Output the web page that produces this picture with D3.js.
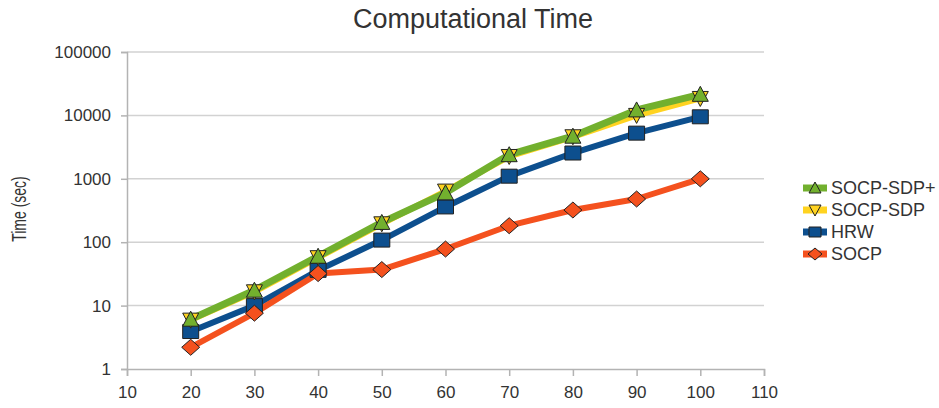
<!DOCTYPE html>
<html>
<head>
<meta charset="utf-8">
<script src="https://cdn.jsdelivr.net/npm/d3@7"></script>
<style>
  html, body { margin: 0; padding: 0; background: #fff; }
  svg { display: block; font-family: "Liberation Sans", Arial, sans-serif; }
</style>
</head>
<body>
<svg id="chart" width="939" height="408"></svg>
<script>
// Problem sizes (x axis)
const sizes = [20, 30, 40, 50, 60, 70, 80, 90, 100];

// Computation time in seconds for each method
const socpSdpPlus = [6.1, 17.5, 60, 205, 600, 2400, 4700, 12200, 21500];
const socpSdp     = [5.9, 16.5, 57, 195, 640, 2250, 4600, 10000, 18500];
const hrw         = [3.9, 10, 36, 108, 360, 1100, 2550, 5250, 9500];
const socp        = [2.2, 7.6, 32, 37, 78, 182, 322, 480, 1000];

// Axis ticks
const xTicks = [10, 20, 30, 40, 50, 60, 70, 80, 90, 100, 110];
const yTicks = [1, 10, 100, 1000, 10000, 100000];

const seriesNames = ["SOCP-SDP+", "SOCP-SDP", "HRW", "SOCP"];

const series = [
  { name: "HRW", values: hrw, color: "#0d4f8e", width: 6, symbol: "square" },
  { name: "SOCP", values: socp, color: "#f4511e", width: 6, symbol: "diamond" },
  { name: "SOCP-SDP", values: socpSdp, color: "#ffd320", width: 6, symbol: "down" },
  { name: "SOCP-SDP+", values: socpSdpPlus, color: "#72b02e", width: 7, symbol: "up" }
];

const svg = d3.select("#chart");

const x = d3.scaleLinear().domain([10, 110]).range([127, 764]);
const y = d3.scaleLog().domain([1, 100000]).range([369, 52]);

// Horizontal gridlines
svg.append("g")
  .selectAll("line")
  .data(yTicks.slice(1))
  .join("line")
  .attr("x1", x(10)).attr("x2", x(110))
  .attr("y1", d => y(d)).attr("y2", d => y(d))
  .attr("stroke", "#d2d2d2").attr("stroke-width", 1.5);

// Y axis
const yAxis = svg.append("g")
  .attr("transform", `translate(${x(10)},0)`)
  .call(d3.axisLeft(y).tickValues(yTicks).tickFormat(d3.format("d")).tickSize(6).tickPadding(10));
yAxis.select(".domain").attr("stroke", "#b3b3b3").attr("stroke-width", 1.5);
yAxis.selectAll(".tick line").attr("stroke", "#b3b3b3").attr("stroke-width", 1.5);
yAxis.selectAll(".tick text").attr("fill", "#333").style("font-size", "17px")
  .style("font-family", "Liberation Sans, Arial, sans-serif");

// X axis
const xAxis = svg.append("g")
  .attr("transform", `translate(0,${y(1)})`)
  .call(d3.axisBottom(x).tickValues(xTicks).tickFormat(d3.format("d")).tickSize(7).tickPadding(10));
xAxis.select(".domain").attr("stroke", "#b3b3b3").attr("stroke-width", 1.5);
xAxis.selectAll(".tick line").attr("stroke", "#b3b3b3").attr("stroke-width", 1.5);
xAxis.selectAll(".tick text").attr("fill", "#333").style("font-size", "17px")
  .style("font-family", "Liberation Sans, Arial, sans-serif");

// Series lines
const line = d3.line().x((d, i) => x(sizes[i])).y(d => y(d));
svg.append("g")
  .selectAll("path")
  .data(series)
  .join("path")
  .attr("d", s => line(s.values))
  .attr("fill", "none")
  .attr("stroke", s => s.color)
  .attr("stroke-width", s => s.width)
  .attr("stroke-linejoin", "round");

// Marker shapes
function markerPath(sym, r) {
  if (sym === "square") return `M${-r - 1},${-r}H${r + 1}V${r}H${-r - 1}Z`;
  if (sym === "diamond") return `M0,${-r - 1}L${r + 2},0L0,${r + 1}L${-r - 2},0Z`;
  if (sym === "up") return `M0,${-r - 1}L${r + 1},${r}L${-r - 1},${r}Z`;
  return `M${-r - 1},${-r}L${r + 1},${-r}L0,${r + 1}Z`;
}

series.forEach(s => {
  svg.append("g")
    .selectAll("path")
    .data(s.values)
    .join("path")
    .attr("transform", (d, i) => `translate(${x(sizes[i])},${y(d)})`)
    .attr("d", markerPath(s.symbol, 7))
    .attr("fill", s.color)
    .attr("stroke", "#222")
    .attr("stroke-width", 1);
});

// Title
svg.append("text")
  .attr("x", 473).attr("y", 28)
  .attr("text-anchor", "middle")
  .attr("fill", "#333")
  .style("font-size", "27px")
  .text("Computational Time");

// Y axis title
svg.append("text")
  .attr("transform", "translate(26,209) scale(1.5,1) rotate(-90)")
  .attr("text-anchor", "middle")
  .attr("fill", "#333")
  .style("font-size", "14px")
  .text("Time (sec)");

// Legend
const legendOrder = seriesNames.map(n => series.find(s => s.name === n));
const lg = svg.append("g")
  .selectAll("g")
  .data(legendOrder)
  .join("g")
  .attr("transform", (d, i) => `translate(0,${188 + i * 22})`);
lg.append("line")
  .attr("x1", 803).attr("x2", 827)
  .attr("stroke", d => d.color).attr("stroke-width", 7);
lg.append("path")
  .attr("transform", "translate(815,0)")
  .attr("d", d => markerPath(d.symbol, 5))
  .attr("fill", d => d.color)
  .attr("stroke", "#222").attr("stroke-width", 1);
lg.append("text")
  .attr("x", 831).attr("y", 6)
  .attr("fill", "#333")
  .style("font-size", "18px")
  .text(d => d.name);
</script>
</body>
</html>
